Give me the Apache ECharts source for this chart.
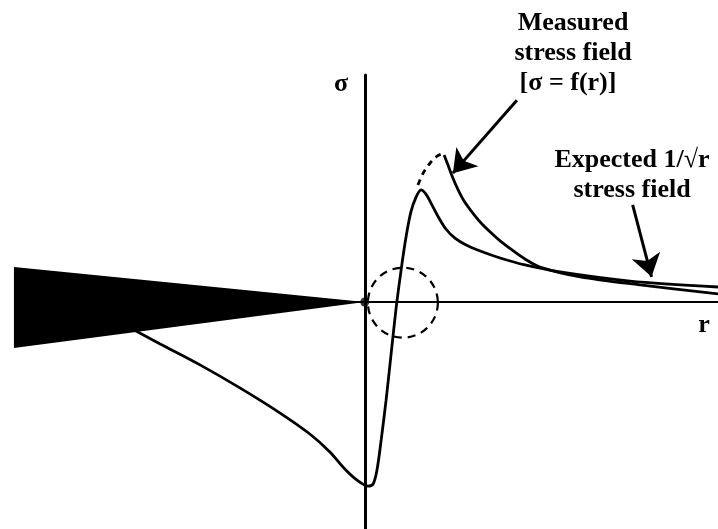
<!DOCTYPE html>
<html lang="en">
<head>
    <meta charset="UTF-8">
    <title>Stress field at crack tip</title>
    <style>
        html, body {margin: 0; padding: 0; background: #fff;}
    </style>
</head>
<body>
<div id="demo" style="width: 718px; height: 529px;"></div>
<script type="text/javascript" src="https://cdn.jsdelivr.net/npm/echarts@6/dist/echarts.min.js"></script>
<script type="text/javascript">
// crack wedge outline (r, sigma)
var crack = [[-10.03, 1.0], [-10.03, -1.32], [0, 0]];
// measured stress, solid curve with the sharp peak
var curveA = [
    [-6.86,-0.66],[-5.85,-1.20],[-4.71,-1.80],[-3.57,-2.46],[-2.42,-3.18],[-1.57,-3.78],
    [-0.99,-4.30],[-0.57,-4.78],[-0.22,-5.10],[0.09,-5.27],[0.24,-5.21],[0.35,-4.81],
    [0.47,-3.95],[0.61,-2.81],[0.75,-1.52],[0.89,-0.23],[1.04,0.92],[1.18,1.86],
    [1.32,2.58],[1.47,3.01],[1.61,3.21],[1.75,3.09],[1.89,2.84],[2.09,2.46],
    [2.32,2.09],[2.58,1.83],[2.90,1.63],[3.30,1.46],[3.87,1.26],[4.58,1.06],
    [5.58,0.86],[7.58,0.60],[10.1,0.43]
];
// 1/sqrt(r) curve, dashed part then solid part
var curveBDash = [[1.52,3.35],[1.67,3.69],[1.87,3.98],[2.07,4.18],[2.21,4.24]];
var curveB = [
    [2.27,4.21],[2.38,3.92],[2.52,3.55],[2.67,3.21],[2.84,2.89],[3.04,2.61],[3.30,2.29],
    [3.58,2.01],[3.87,1.75],[4.21,1.49],[4.58,1.23],[5.01,1.00],[6.16,0.72],[7.87,0.49],[10.1,0.23]
];
// process zone circle: centre r, centre sigma, radius (r units)
var zone = [[1.09, -0.02, 1.0]];
// arrows pointing at the curves
var arrows = [
    [[4.35, 5.78], [2.52, 3.69]],
    [[7.66, 2.78], [8.2, 0.72]]
];

var myChart = echarts.init(document.getElementById('demo'));
var ink = '#000';

function label(x, y, text) {
    return {
        type: 'text',
        style: {
            x: x, y: y, text: text, fill: ink,
            fontFamily: 'Liberation Serif', fontSize: 26, fontWeight: 'bold',
            align: 'center', verticalAlign: 'middle'
        }
    };
}

option = {
    animation: false,
    grid: {left: 15, right: 0, top: 75, bottom: 0},
    xAxis: {
        type: 'value',
        min: -10,
        max: 10.1,
        axisLine: {show: true, onZero: true, lineStyle: {color: ink, width: 2}},
        axisTick: {show: false},
        axisLabel: {show: false},
        splitLine: {show: false}
    },
    yAxis: {
        type: 'value',
        min: -6.5,
        max: 6.5,
        axisLine: {show: true, onZero: true, lineStyle: {color: ink, width: 3}},
        axisTick: {show: false},
        axisLabel: {show: false},
        splitLine: {show: false}
    },
    graphic: [
        label(341, 84, 'σ'),
        label(704, 325, 'r'),
        label(573, 23, 'Measured'),
        label(573, 53, 'stress field'),
        label(568, 83, '[σ = f(r)]'),
        label(632, 160, 'Expected 1/√r'),
        label(632, 190, 'stress field')
    ],
    series: [
        {
            type: 'line',
            data: curveA,
            smooth: 0.3,
            symbol: 'none',
            lineStyle: {color: ink, width: 2.8}
        },
        {
            type: 'line',
            data: curveBDash,
            smooth: 0.3,
            symbol: 'none',
            lineStyle: {color: ink, width: 2.8, type: [6, 5]}
        },
        {
            type: 'line',
            data: curveB,
            smooth: 0.3,
            symbol: 'none',
            lineStyle: {color: ink, width: 2.8}
        },
        {
            type: 'custom',
            data: [0],
            z: 5,
            clip: false,
            renderItem: function (params, api) {
                var pts = crack.map(function (p) { return api.coord(p); });
                return {type: 'polygon', shape: {points: pts}, style: {fill: ink}};
            }
        },
        {
            type: 'custom',
            data: zone,
            renderItem: function (params, api) {
                var c = api.coord([api.value(0), api.value(1)]);
                var rad = api.size([api.value(2), 0])[0];
                return {
                    type: 'circle',
                    shape: {cx: c[0], cy: c[1], r: rad},
                    style: {fill: null, stroke: ink, lineWidth: 2.2, lineDash: [8, 6]}
                };
            }
        },
        {
            type: 'scatter',
            data: [[0, 0]],
            symbolSize: 9,
            z: 6,
            itemStyle: {color: ink}
        },
        {
            type: 'lines',
            coordinateSystem: 'cartesian2d',
            data: arrows.map(function (a) { return {coords: a}; }),
            symbol: ['none', 'arrow'],
            symbolSize: [14, 22],
            lineStyle: {color: ink, width: 3, opacity: 1}
        }
    ]
};
myChart.setOption(option);
</script>
</body>
</html>
